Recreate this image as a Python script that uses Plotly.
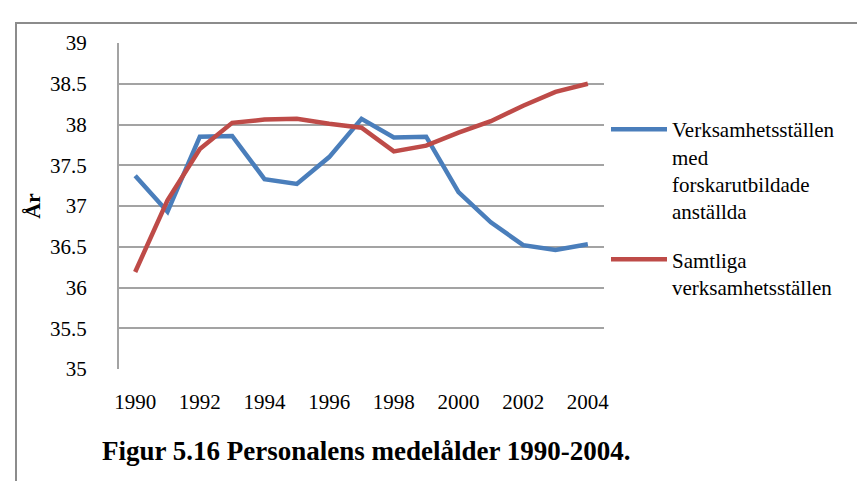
import plotly.graph_objects as go

years = list(range(1990, 2005))
forskare = [37.37, 36.93, 37.85, 37.86, 37.33, 37.27, 37.60, 38.07, 37.84, 37.85, 37.17, 36.80, 36.52, 36.46, 36.53]
samtliga = [36.19, 37.07, 37.70, 38.02, 38.06, 38.07, 38.01, 37.96, 37.67, 37.74, 37.90, 38.04, 38.23, 38.40, 38.50]
series_names = ["Verksamhetsställen<br>med<br>forskarutbildade<br>anställda", "Samtliga<br>verksamhetsställen"]
x_ticks = [1990, 1992, 1994, 1996, 1998, 2000, 2002, 2004]
y_ticks = [35, 35.5, 36, 36.5, 37, 37.5, 38, 38.5, 39]
title_text = "Figur 5.16 Personalens medelålder 1990-2004."

tnr = "Liberation Serif"

fig = go.Figure()
fig.add_trace(go.Scatter(x=years, y=forskare, mode="lines", name=series_names[0], legendgroup="a",
                         line=dict(color="#4a7ebb", width=4.5)))
fig.add_trace(go.Scatter(x=years, y=samtliga, mode="lines", name=series_names[1], legendgroup="b",
                         line=dict(color="#be4b48", width=4.5)))

W, H = 865, 481
L, R, T, B = 111, 596, 35, 361
pw, ph = R - L, B - T

def px(xp):
    return (xp - L) / pw

def py(yp):
    return (B - yp) / ph

fig.update_layout(
    width=W, height=H,
    margin=dict(l=L, r=W - R, t=T, b=H - B, autoexpand=False),
    plot_bgcolor="white", paper_bgcolor="white",
    font=dict(family=tnr, color="black", size=20),
    showlegend=True,
    legend=dict(x=px(598), y=py(101), xanchor="left", yanchor="top", valign="top",
                font=dict(family=tnr, size=21, color="black"),
                itemwidth=56, tracegroupgap=18, bgcolor="rgba(0,0,0,0)"),
    xaxis=dict(range=[1989.5, 2004.5], tickvals=x_ticks, ticktext=[str(v) for v in x_ticks],
               showgrid=False, zeroline=False, showline=False, ticks="",
               tickfont=dict(family=tnr, size=21), ticklabelstandoff=18),
    yaxis=dict(range=[35, 39], tickvals=y_ticks, ticktext=[("%g" % v) for v in y_ticks],
               showgrid=True, gridcolor="#a3a3a3", gridwidth=2, zeroline=False,
               showline=True, linecolor="#a3a3a3", linewidth=2, ticks="",
               tickfont=dict(family=tnr, size=21), ticklabelstandoff=26,
               title=dict(text="<b>År</b>", font=dict(family=tnr, size=22), standoff=3)),
    shapes=[dict(type="rect", xref="paper", yref="paper",
                 x0=px(8), x1=px(900), y0=py(520), y1=py(15),
                 line=dict(color="#8c8c8c", width=2), fillcolor="rgba(0,0,0,0)", layer="below")],
    annotations=[dict(text="<b>" + title_text + "</b>", xref="paper", yref="paper",
                      x=px(92), y=py(443), xanchor="left", yanchor="middle", showarrow=False,
                      font=dict(family=tnr, size=27, color="black"))],
)

fig.write_html("out.html")
